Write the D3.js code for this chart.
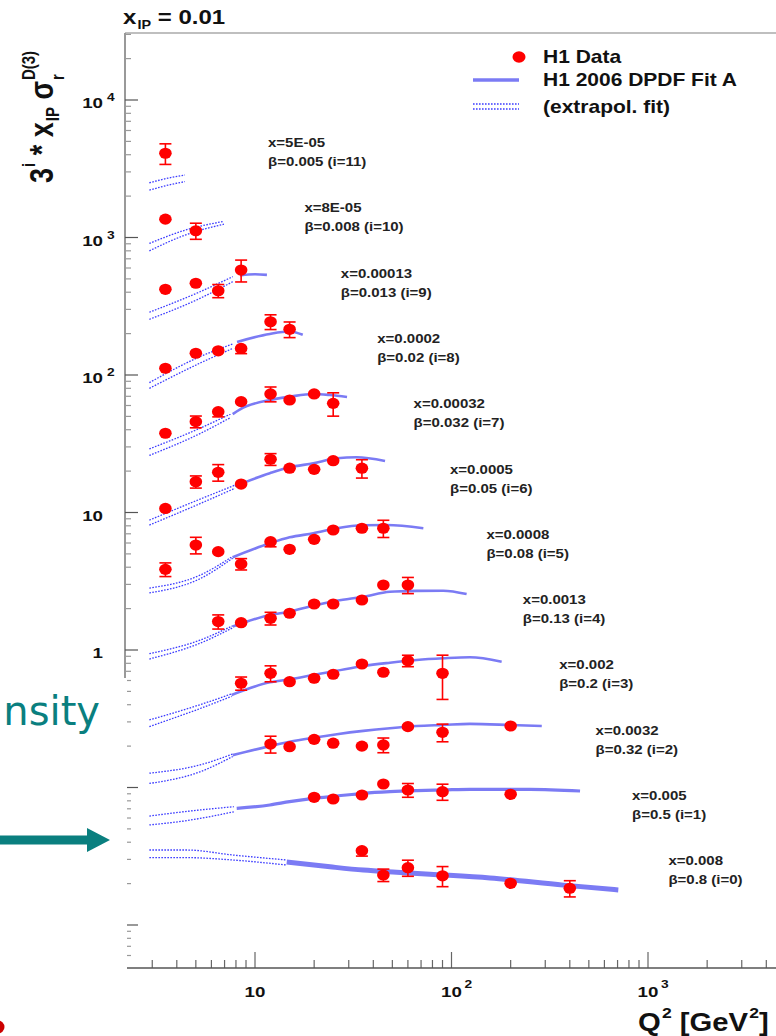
<!DOCTYPE html>
<html>
<head>
<meta charset="utf-8">
<script src="https://cdn.jsdelivr.net/npm/d3@7"></script>
<style>
  body { margin: 0; background: #fff; }
  text { font-family: 'Liberation Sans', Arial, Helvetica, sans-serif; white-space: pre; }
</style>
</head>
<body>
<script>
// series are listed from the top curve (i=11) down to the bottom one (i=0)
const seriesIdx = [11, 10, 9, 8, 7, 6, 5, 4, 3, 2, 1, 0];
const xBj = ['5E-05', '8E-05', '0.00013', '0.0002', '0.00032', '0.0005', '0.0008', '0.0013', '0.002', '0.0032', '0.005', '0.008'];
const betas = ['0.005', '0.008', '0.013', '0.02', '0.032', '0.05', '0.08', '0.13', '0.2', '0.32', '0.5', '0.8'];

// H1 data points (already multiplied by 3^i)
const pointQ2 = [
    [3.5],
    [3.5, 5],
    [3.5, 5, 6.5, 8.5],
    [3.5, 5, 6.5, 8.5, 12, 15],
    [3.5, 5, 6.5, 8.5, 12, 15, 20, 25],
    [3.5, 5, 6.5, 8.5, 12, 15, 20, 25, 35],
    [3.5, 5, 6.5, 8.5, 12, 15, 20, 25, 35, 45],
    [6.5, 8.5, 12, 15, 20, 25, 35, 45, 60],
    [8.5, 12, 15, 20, 25, 35, 45, 60, 90],
    [12, 15, 20, 25, 35, 45, 60, 90, 200],
    [20, 25, 35, 45, 60, 90, 200],
    [35, 45, 60, 90, 200, 400]
];
const pointVal = [
    [4100],
    [1360, 1120],
    [420, 465, 410, 580],
    [112, 144, 150, 156, 244, 215],
    [37.7, 45.8, 54.1, 64, 72.8, 65.8, 72.8, 62.2],
    [10.7, 16.75, 19.6, 16.1, 24.4, 21.0, 20.6, 23.8, 21.0],
    [3.86, 5.80, 5.19, 4.22, 6.13, 5.40, 6.38, 7.46, 7.68, 7.68],
    [1.61, 1.58, 1.70, 1.85, 2.16, 2.16, 2.31, 2.97, 2.97],
    [0.573, 0.677, 0.588, 0.623, 0.666, 0.791, 0.689, 0.836, 0.677],
    [0.207, 0.198, 0.224, 0.210, 0.200, 0.204, 0.277, 0.252, 0.280],
    [0.0849, 0.0825, 0.0882, 0.106, 0.0959, 0.0932, 0.0892],
    [0.0347, 0.0231, 0.0261, 0.0228, 0.0201, 0.0185]
];
const pointErr = [
    [700],
    [60, 150],
    [20, 35, 45, 105],
    [7, 10, 12, 13, 30, 28],
    [2.5, 4.5, 4.5, 3, 9, 2.5, 5, 12],
    [0.8, 1.7, 2.7, 0.8, 2.4, 0.8, 0.8, 0.8, 3.2],
    [0.44, 0.8, 0.3, 0.4, 0.5, 0.25, 0.25, 0.3, 0.3, 1.1],
    [0.19, 0.06, 0.18, 0.06, 0.07, 0.07, 0.08, 0.08, 0.4],
    [0.063, 0.09, 0.02, 0.05, 0.02, 0.02, 0.02, 0.08, 0.24],
    [0.029, 0.008, 0.008, 0.008, 0.008, 0.025, 0.008, 0.037, 0.008],
    [0.003, 0.003, 0.003, 0.003, 0.011, 0.0125, 0.003],
    [0.003, 0.0024, 0.0035, 0.0038, 0.001, 0.0025]
];

// DPDF Fit A, inside the fitted region (solid)
const fitQ2 = [
    [],
    [],
    [8.4, 10, 11.5],
    [8.1, 11.9, 15, 17.5],
    [7.7, 8.4, 11.9, 15, 19.8, 24.1, 29.4],
    [7.9, 11.9, 15, 19.8, 26.1, 32.9, 45.9],
    [7.7, 11.9, 15, 19.8, 26.1, 35.6, 46.8, 71.9],
    [7.7, 11.9, 15, 19.8, 26.1, 35.6, 48.6, 66.5, 90.8, 119.4],
    [7.6, 11.9, 15, 19.8, 26.1, 35.6, 48.6, 66.5, 90.8, 124, 180],
    [7.7, 11.9, 15, 19.8, 26.1, 35.6, 48.6, 66.5, 90.8, 124, 198.6, 288],
    [8.07, 11.9, 15, 19.8, 26.1, 35.6, 48.6, 66.5, 90.8, 124, 251, 451],
    [14.5, 24.1, 35.6, 52.6, 77.7, 157, 371, 706]
];
const fitVal = [
    [],
    [],
    [530, 540, 535],
    [174, 199, 207, 196],
    [52, 56.3, 65.8, 69.5, 72.8, 71.5, 69.2],
    [15.6, 19.3, 21.3, 22.8, 24.8, 25.2, 23.7],
    [4.72, 5.97, 6.60, 7.06, 7.68, 8.07, 8.11, 7.68],
    [1.48, 1.80, 1.90, 2.10, 2.28, 2.44, 2.65, 2.69, 2.70, 2.55],
    [0.471, 0.582, 0.612, 0.658, 0.707, 0.765, 0.808, 0.846, 0.870, 0.885, 0.822],
    [0.172, 0.200, 0.215, 0.230, 0.244, 0.258, 0.270, 0.280, 0.285, 0.290, 0.285, 0.280],
    [0.0706, 0.0746, 0.0789, 0.0834, 0.0867, 0.0907, 0.0932, 0.0948, 0.0959, 0.097, 0.097, 0.0943],
    [0.0287, 0.0265, 0.0251, 0.0242, 0.0234, 0.022, 0.0195, 0.018]
];

// extrapolated fit, upper and lower edge of the dotted band
const extQ2 = [
    [2.9, 3.6, 4.4],
    [2.9, 4.4, 6.95],
    [2.9, 5.25, 7.7],
    [2.9, 5.25, 7.7],
    [2.9, 5.25, 7.5],
    [2.9, 5.25, 7.9],
    [2.9, 5.25, 7.7],
    [2.9, 5.25, 7.7],
    [2.9, 5.25, 7.6],
    [2.9, 5.25, 7.7],
    [2.9, 4.7, 7.8],
    [2.9, 4.5, 7.7, 14.5]
];
const extUp = [
    [2500, 2700, 2850],
    [905, 1130, 1310],
    [286, 403, 519],
    [88, 136, 168],
    [29, 41, 52],
    [8.8, 12.5, 15.8],
    [2.82, 3.5, 4.8],
    [0.94, 1.18, 1.50],
    [0.31, 0.40, 0.48],
    [0.127, 0.146, 0.175],
    [0.062, 0.0675, 0.0725],
    [0.0351, 0.0351, 0.0323, 0.0297]
];
const extLo = [
    [2210, 2400, 2550],
    [800, 1040, 1250],
    [254, 361, 477],
    [80, 122, 156],
    [26, 37.5, 49],
    [8.1, 11.6, 15.0],
    [2.6, 3.3, 4.65],
    [0.86, 1.12, 1.45],
    [0.277, 0.375, 0.46],
    [0.107, 0.130, 0.168],
    [0.0534, 0.058, 0.0666],
    [0.0309, 0.0309, 0.0297, 0.0273]
];

const yTickVals = [1, 10, 100, 1000, 10000];
const yTickBase = ['1', '10', '10', '10', '10'];
const yTickExp = ['', '', '2', '3', '4'];
const xTickVals = [10, 100, 1000];
const xTickBase = ['10', '10', '10'];
const xTickExp = ['', '2', '3'];
const legendText = ['H1 Data', 'H1 2006 DPDF Fit A', '(extrapol. fit)'];

const W = 776, H = 1036;
const frame = {left: 125, top: 33, bottom: 968};
const red = '#ff0000';
const fitColor = '#7b7bf4';
const extColor = '#3c3cff';
const teal = '#0a7f7f';

const svg = d3.select('body').append('svg').attr('width', W).attr('height', H);
svg.append('rect').attr('width', W).attr('height', H).attr('fill', '#fff');

const x = d3.scaleLog().domain([10, 1000]).range([255, 648]);
const y = d3.scaleLog().domain([1, 10000]).range([650, 100]);

// text made of pieces (sub/superscripts), optionally stretched / rotated
function rich(parent, px, py, parts, o = {}) {
    const g = parent.append('g');
    const inner = g.append('g');
    let cx = 0, prevStart = 0;
    parts.forEach(p => {
        const start = p.stack ? prevStart : cx + (p.pre || 0);
        const t = inner.append('text')
            .attr('x', start).attr('y', p.dy || 0)
            .attr('font-size', p.s).attr('font-weight', p.w || 'bold')
            .attr('fill', o.fill || '#111')
            .text(p.t);
        const w = t.node().getComputedTextLength();
        if (!p.stack) prevStart = start;
        cx = Math.max(cx, start + w);
    });
    const shift = o.anchor === 'end' ? -cx : o.anchor === 'middle' ? -cx / 2 : 0;
    inner.attr('transform', `translate(${shift},0)`);
    g.attr('transform', `translate(${px},${py}) rotate(${o.rot || 0}) scale(${o.sx || 1},${o.sy || 1})`);
    return g;
}

// frame and axes
svg.append('line').attr('x1', frame.left).attr('x2', W).attr('y1', frame.top).attr('y2', frame.top)
    .attr('stroke', '#aaa').attr('stroke-width', 1.5);
svg.append('line').attr('x1', frame.left).attr('x2', frame.left).attr('y1', frame.top).attr('y2', frame.bottom)
    .attr('stroke', '#999').attr('stroke-width', 2);

for (let e = -3; e <= 4; e++) {
    for (let m = 1; m <= 9; m++) {
        const py = y(m * Math.pow(10, e));
        if (py < frame.top || py > frame.bottom - 2) continue;
        svg.append('line').attr('x1', frame.left).attr('x2', frame.left + (m === 1 ? 13 : 6))
            .attr('y1', py).attr('y2', py)
            .attr('stroke', m === 1 ? '#555' : '#999').attr('stroke-width', 1.2);
    }
}
for (let e = 0; e <= 3; e++) {
    for (let m = 1; m <= 9; m++) {
        const px = x(m * Math.pow(10, e));
        if (px < frame.left + 3 || px > W) continue;
        svg.append('line').attr('x1', px).attr('x2', px)
            .attr('y1', frame.bottom).attr('y2', frame.bottom - (m === 1 ? 16 : 8))
            .attr('stroke', '#666').attr('stroke-width', 1.2);
    }
}
svg.append('line').attr('x1', frame.left).attr('x2', W).attr('y1', frame.bottom).attr('y2', frame.bottom)
    .attr('stroke', '#555').attr('stroke-width', 1.6);

yTickVals.forEach((v, k) => {
    rich(svg, 103, y(v) + 8, [{t: yTickBase[k], s: 15}], {anchor: 'end', sx: 1.25});
    if (yTickExp[k]) rich(svg, 107, y(v) + 1, [{t: yTickExp[k], s: 11}], {sx: 1.25});
});
xTickVals.forEach((v, k) => {
    rich(svg, x(v), 997, [{t: xTickBase[k], s: 15}], {anchor: 'middle', sx: 1.25});
    if (xTickExp[k]) rich(svg, x(v) + 13, 988, [{t: xTickExp[k], s: 11}], {sx: 1.25});
});

// axis titles
rich(svg, 123, 24, [{t: 'x', s: 20}, {t: 'IP', s: 12, dy: 5, pre: 1}, {t: ' = 0.01', s: 20}], {sx: 1.2});
rich(svg, 53, 183, [
    {t: '3', s: 27}, {t: 'i', s: 15, dy: -15, pre: 1},
    {t: ' * ', s: 27}, {t: 'x', s: 27}, {t: 'IP', s: 15, dy: 5, pre: 1},
    {t: ' \u03c3', s: 27}, {t: 'r', s: 15, dy: 9, pre: 1}, {t: 'D(3)', s: 15, dy: -15, stack: true}
], {rot: -90, sy: 1.2});
rich(svg, 638, 1031, [
    {t: 'Q', s: 25}, {t: '2', s: 15, dy: -13, pre: 1}, {t: ' [GeV', s: 25}, {t: '2', s: 15, dy: -13, pre: 1}, {t: ']', s: 25}
], {sx: 1.17});

// curves and points
const line = d3.line().x(d => x(d[0])).y(d => y(d[1])).curve(d3.curveMonotoneX);
const plot = svg.append('g');
seriesIdx.forEach((i, k) => {
    [extUp[k], extLo[k]].forEach(edge => {
        plot.append('path').attr('d', line(extQ2[k].map((q, j) => [q, edge[j]])))
            .attr('fill', 'none').attr('stroke', extColor).attr('stroke-width', 1.3)
            .attr('stroke-dasharray', '1.6,1.4');
    });
    if (fitQ2[k].length) {
        plot.append('path').attr('d', line(fitQ2[k].map((q, j) => [q, fitVal[k][j]])))
            .attr('fill', 'none').attr('stroke', fitColor).attr('stroke-width', i === 0 ? 5 : (i === 1 ? 3.2 : 2.6));
    }
    pointQ2[k].forEach((q, j) => {
        const v = pointVal[k][j], e = pointErr[k][j];
        const px = x(q), y0 = y(v + e), y1 = y(v - e);
        plot.append('line').attr('x1', px).attr('x2', px).attr('y1', y0).attr('y2', y1)
            .attr('stroke', red).attr('stroke-width', 1.6);
        [y0, y1].forEach(cy => {
            if (Math.abs(cy - y(v)) > 5) {
                plot.append('line').attr('x1', px - 6).attr('x2', px + 6).attr('y1', cy).attr('y2', cy)
                    .attr('stroke', red).attr('stroke-width', 1.6);
            }
        });
        plot.append('ellipse').attr('cx', px).attr('cy', y(v)).attr('rx', 6.3).attr('ry', 5.6).attr('fill', red);
    });
    // bin label
    const lx = 268 + k * 36.4, ly = 147 + k * 65.3;
    rich(svg, lx, ly, [{t: 'x=' + xBj[k], s: 12}], {sx: 1.25, fill: '#222'});
    rich(svg, lx, ly + 19, [{t: '\u03b2=' + betas[k] + ' (i=' + i + ')', s: 12}], {sx: 1.25, fill: '#222'});
});

// legend
const leg = svg.append('g');
leg.append('ellipse').attr('cx', 519).attr('cy', 57).attr('rx', 6.5).attr('ry', 5.8).attr('fill', red);
leg.append('line').attr('x1', 473).attr('x2', 519).attr('y1', 80).attr('y2', 80)
    .attr('stroke', fitColor).attr('stroke-width', 3.5);
[104, 109].forEach(ly => leg.append('line').attr('x1', 473).attr('x2', 519).attr('y1', ly).attr('y2', ly)
    .attr('stroke', extColor).attr('stroke-width', 1.3).attr('stroke-dasharray', '1.6,1.4'));
legendText.forEach((t, k) => rich(leg, 543, [63, 86, 113][k], [{t: t, s: 17.5}], {sx: 1.2}));

// slide overlay on the left: white panel, cut-off word and arrow
svg.append('rect').attr('x', 0).attr('y', 678).attr('width', 127).attr('height', H - 678).attr('fill', '#fff');
svg.append('text').attr('x', 100).attr('y', 725).attr('text-anchor', 'end')
    .attr('font-size', 40).attr('fill', teal)
    .style('font-family', "'Comic Sans MS', 'DejaVu Sans', sans-serif").text('nsity');
svg.append('path').attr('d', 'M0,835.5 L87,835.5 L87,828 L110,840 L87,852 L87,844.5 L0,844.5 Z').attr('fill', teal);
svg.append('circle').attr('cx', -2).attr('cy', 1027).attr('r', 6.5).attr('fill', '#cc0000');
</script>
</body>
</html>
